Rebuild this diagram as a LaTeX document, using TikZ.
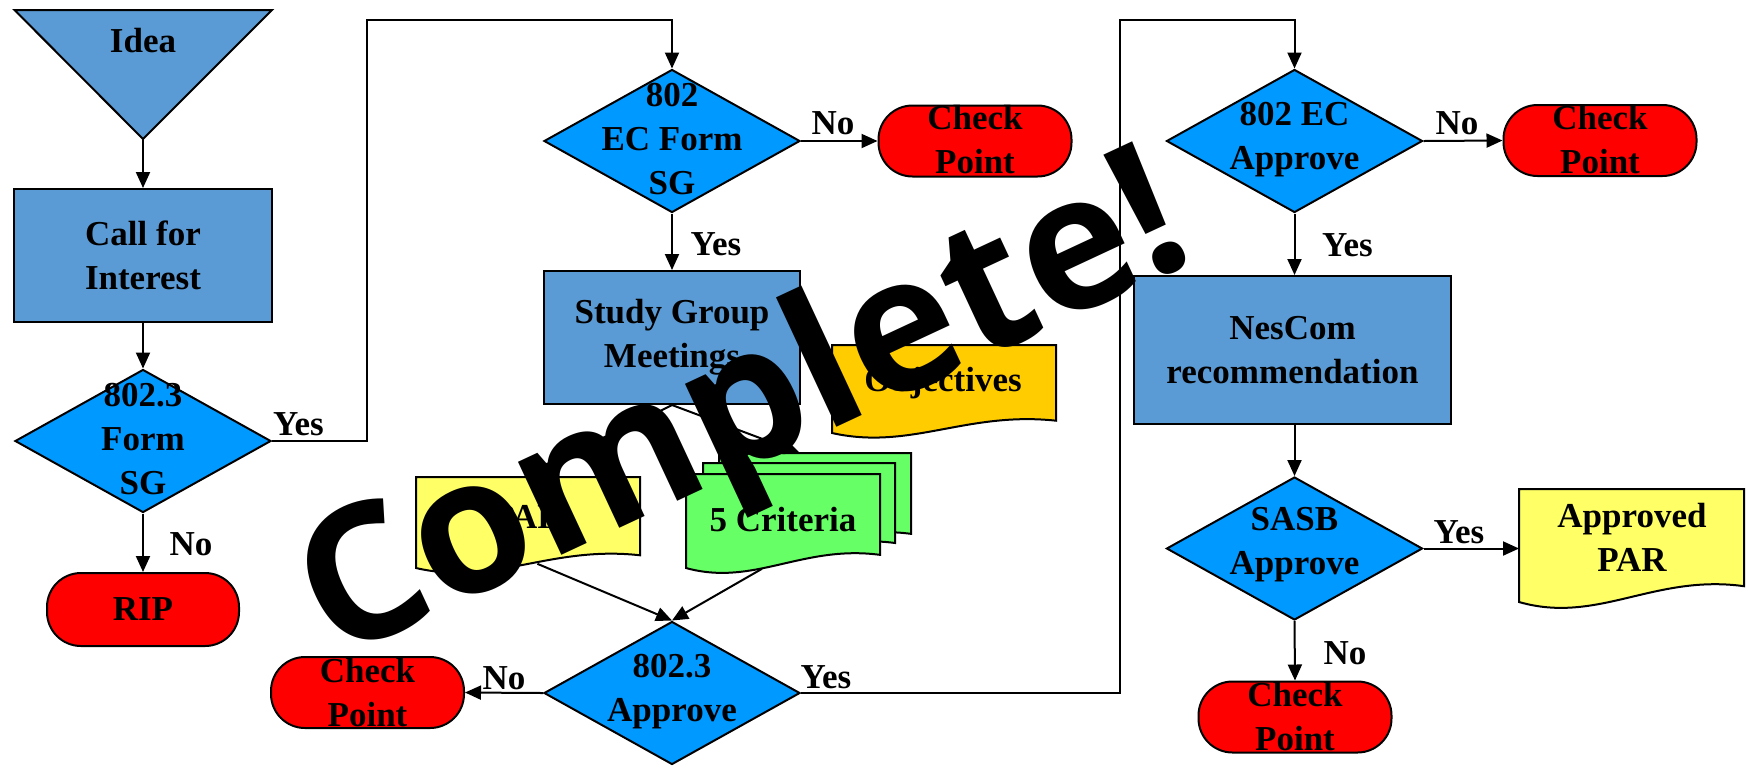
\documentclass[tikz,border=0pt]{standalone}
\usepackage{fontspec}
\setmainfont{Liberation Serif}
\newfontfamily\cfont{Open Sans}
\usetikzlibrary{shapes.geometric,arrows.meta,calc}

\definecolor{boxblue}{RGB}{91,155,213}
\definecolor{diablue}{RGB}{0,153,255}
\definecolor{cpred}{RGB}{255,0,0}
\definecolor{objyel}{RGB}{255,204,0}
\definecolor{paryel}{RGB}{255,255,102}
\definecolor{critgrn}{RGB}{102,255,102}

\tikzset{
  txt/.style={font=\fontsize{17.5}{22}\selectfont\bfseries, align=center, inner sep=0pt},
  procbox/.style={draw, line width=1pt, fill=boxblue, inner sep=0pt, txt},
  decide/.style={diamond, draw, line width=1pt, fill=diablue, inner sep=0pt,
    minimum width=128pt, minimum height=71.5pt},
  term/.style={rectangle, rounded corners=17pt, draw, line width=1pt, fill=cpred,
    inner sep=0pt, minimum width=96.5pt, minimum height=35.5pt},
  arr/.style={line width=1pt, -{Triangle[length=8pt,width=7pt]}},
  conn/.style={line width=1pt}
}

\newcommand\docshape[6]{%
  \filldraw[fill=#6, line width=1pt] (#2,#3) -- ++(#4,0) -- ++(0,{0.86*#5})
    .. controls ({#2+0.6*#4},{#3+0.75*#5}) and ({#2+0.35*#4},{#3+1.2*#5}) .. (#2,{#3+#5}) -- cycle;
  \node[inner sep=0pt, minimum width={#4*0.5pt}, minimum height={#5*0.5pt}, anchor=north west] (#1) at (#2,#3) {};
}

\begin{document}
\begin{tikzpicture}[x=0.5pt,y=-0.5pt]
\useasboundingbox (0,0) rectangle (1749,767);

% Idea triangle
\filldraw[fill=boxblue, line width=1pt] (14.5,10) -- (272,10) -- (143,139) -- cycle;
\coordinate (ideab) at (143,139);
\node[txt] (idea) at (143,41) {Idea};

% column 1
\node[procbox, minimum width=129pt, minimum height=66.5pt] (cfi) at (143,255.5) {Call for\\Interest};
\node[decide] (d1) at (143,441) {};
\node[txt] (d1t) at (143,439) {802.3\\Form\\SG};
\node[term, minimum width=96pt, minimum height=36.5pt] (rip) at (143,609.5) {};
\node[txt] (ript) at (143,609.5) {RIP};

% column 2
\node[decide] (d2) at (672,141) {};
\node[txt] (d2t) at (672,139) {802\\EC Form\\SG};
\node[term] (cp1) at (975,141) {};
\node[txt] (cp1t) at (975,140) {Check\\Point};
\node[procbox, minimum width=128pt, minimum height=66.5pt] (sg) at (672,337.5) {Study Group\\Meetings};

\docshape{obj}{832}{345}{224}{88}{objyel}
\node[txt] (objt) at (943,383) {Objectives};

\docshape{par}{416}{477}{224}{91}{paryel}
\node[txt] (part) at (528,517) {PAR};

\docshape{c3}{719}{453}{192}{94}{critgrn}
\docshape{c2}{703}{463}{192}{93}{critgrn}
\docshape{c1}{686}{474}{194}{94}{critgrn}
\node[txt] (c1t) at (783,520) {5 Criteria};

\node[decide] (d3) at (672,693) {};
\node[txt] (d3t) at (672,692) {802.3\\Approve};
\node[term] (cp3) at (367.5,692.5) {};
\node[txt] (cp3t) at (367.5,692.5) {Check\\Point};

% column 3
\node[decide] (d4) at (1294.5,141) {};
\node[txt] (d4t) at (1294.5,140) {802 EC\\Approve};
\node[term] (cp2) at (1600,140.5) {};
\node[txt] (cp2t) at (1600,140) {Check\\Point};
\node[procbox, minimum width=158.5pt, minimum height=74pt] (nes) at (1292.5,350) {NesCom\\recommendation};
\node[decide] (d5) at (1294.5,548.5) {};
\node[txt] (d5t) at (1294.5,545) {SASB\\Approve};
\docshape{apar}{1519}{489}{225}{113}{paryel}
\node[txt] (apart) at (1632,537) {Approved\\PAR};
\node[term] (cp4) at (1295,717) {};
\node[txt] (cp4t) at (1295,716.5) {Check\\Point};

% connectors
\draw[arr] (ideab) -- (cfi.north);
\draw[arr] (cfi.south) -- (d1.north);
\draw[arr] (d1.south) -- (rip.north);
\draw[arr] (d1.east) -| (367,20) -| (d2.north);
\draw[arr] (d2.east) -- (cp1.west);
\draw[arr] (d2.south) -- (sg.north);
\draw[arr] (sg.south) -- (par.north);
\draw[arr] (sg.south) -- ($(c3.north west)!0.42!(c3.north east)$);
\draw[arr] ($(par.south west)!0.54!(par.south east)+(0,-5)$) -- (d3.north);
\draw[arr] ($(c1.south west)!0.39!(c1.south east)$) -- (d3.north);
\draw[arr] (d3.west) -- (cp3.east);
\draw[arr] (d3.east) -| (1120,20) -| (d4.north);
\draw[arr] (d4.east) -- (cp2.west);
\draw[arr] (d4.south) -- (d4.south |- nes.north);
\draw[arr] (d5.north |- nes.south) -- (d5.north);
\draw[arr] (d5.east) -- (d5.east -| apar.west);
\draw[arr] (d5.south) -- (cp4.north);

% connector labels
\node[txt] (l1) at (298.5,424) {Yes};
\node[txt] (l2) at (191,544) {No};
\node[txt] (l3) at (833,123) {No};
\node[txt] (l4) at (716,244) {Yes};
\node[txt] (l5) at (504,678) {No};
\node[txt] (l6) at (826,677) {Yes};
\node[txt] (l7) at (1457,123) {No};
\node[txt] (l8) at (1347.5,245) {Yes};
\node[txt] (l9) at (1459,532) {Yes};
\node[txt] (l10) at (1345,653) {No};

% stamp
\node[font=\cfont\fontsize{94}{100}\selectfont\bfseries, rotate=25, anchor=base, inner sep=0pt] (done) at (767,460) {Complete!};
\end{tikzpicture}
\end{document}
